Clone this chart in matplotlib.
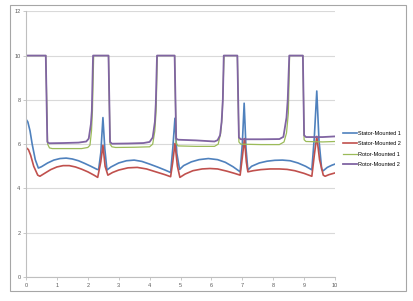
import matplotlib
matplotlib.use("Agg")
from matplotlib import pyplot as plt
from matplotlib.patches import Rectangle

plt.rcParams['font.family'] = ['Liberation Sans', 'DejaVu Sans']

# Stator-Mounted 1
s1_x = [0, 0.06, 0.13, 0.2, 0.3, 0.4, 0.5, 0.7, 0.9, 1.1, 1.3, 1.5, 1.7, 1.9, 2.1, 2.3, 2.35,
        2.42, 2.49, 2.55, 2.62, 2.75, 3.0, 3.25, 3.5, 3.75, 4.0, 4.25, 4.5, 4.68,
        4.75, 4.82, 4.88, 4.97, 5.1, 5.35, 5.6, 5.9, 6.2, 6.45, 6.7, 6.93,
        7.0, 7.06, 7.12, 7.18, 7.3, 7.55, 7.8, 8.05, 8.3, 8.55, 8.8, 9.05, 9.25,
        9.33, 9.41, 9.48, 9.57, 9.62, 9.75, 9.9, 10]
s1_y = [7.13, 7.0, 6.6, 6.0, 5.3, 4.92, 4.98, 5.15, 5.28, 5.35, 5.37, 5.33, 5.25, 5.13, 5.0, 4.86, 4.85,
        5.6, 7.2, 5.8, 4.83, 4.97, 5.15, 5.25, 5.28, 5.22, 5.1, 4.97, 4.83, 4.72,
        5.8, 7.17, 5.6, 4.86, 5.03, 5.2, 5.3, 5.35, 5.3, 5.18, 4.98, 4.75,
        6.0, 7.85, 5.8, 4.83, 5.0, 5.15, 5.23, 5.27, 5.28, 5.25, 5.15, 5.0, 4.84,
        6.3, 8.4, 6.2, 4.85, 4.8, 4.95, 5.05, 5.1]

# Stator-Mounted 2
s2_x = [0, 0.08, 0.15, 0.25, 0.38, 0.45, 0.6, 0.8, 1.0, 1.2, 1.4, 1.6, 1.8, 2.0, 2.2, 2.32,
        2.42, 2.49, 2.56, 2.65, 2.8, 3.0, 3.3, 3.6, 3.9, 4.2, 4.5, 4.68,
        4.75, 4.82, 4.9, 4.98, 5.15, 5.4, 5.7, 5.95, 6.2, 6.5, 6.75, 6.93,
        7.0, 7.07, 7.13, 7.18, 7.35, 7.6, 7.9, 8.2, 8.45, 8.7, 9.0, 9.25,
        9.33, 9.41, 9.5, 9.62, 9.68, 9.8, 10]
s2_y = [5.85, 5.75, 5.5, 5.0, 4.6, 4.55, 4.68, 4.85, 4.97, 5.03, 5.03, 4.97, 4.87, 4.75, 4.6, 4.5,
        5.2, 5.95, 5.0, 4.6, 4.72, 4.83, 4.93, 4.95, 4.88, 4.75, 4.62, 4.53,
        5.2, 6.03, 5.0, 4.5, 4.65, 4.8, 4.88, 4.9, 4.88, 4.78, 4.68, 4.6,
        5.4, 6.25, 5.2, 4.75, 4.8, 4.85, 4.88, 4.88, 4.86, 4.8, 4.68, 4.55,
        5.5, 6.35, 5.3, 4.6, 4.55, 4.62, 4.7]

# Rotor-Mounted 1
r1_x = [0, 0.64, 0.7, 0.76, 0.85, 1.3, 1.8, 2.0, 2.07, 2.12, 2.15, 2.19,
        2.67, 2.72, 2.78, 2.9, 3.5, 4.0, 4.1, 4.17, 4.21, 4.25,
        4.81, 4.86, 4.92, 5.5, 6.1, 6.22, 6.3, 6.35, 6.41,
        6.84, 6.89, 6.95, 7.6, 8.2, 8.35, 8.43, 8.49, 8.53,
        8.96, 9.0, 9.06, 9.6, 10]
r1_y = [10, 10, 6.0, 5.83, 5.8, 5.8, 5.8, 5.85, 5.95, 6.6, 7.5, 10,
        10, 6.0, 5.88, 5.85, 5.86, 5.88, 6.0, 6.6, 7.5, 10,
        10, 6.05, 5.92, 5.9, 5.9, 6.0, 6.5, 7.3, 10,
        10, 6.1, 6.0, 5.98, 5.98, 6.1, 6.5, 7.4, 10,
        10, 6.2, 6.12, 6.1, 6.12]

# Rotor-Mounted 2
r2_x = [0, 0.64, 0.69, 0.75, 1.2, 1.7, 1.95, 2.03, 2.1, 2.13, 2.17,
        2.67, 2.72, 2.78, 3.3, 3.8, 4.0, 4.1, 4.17, 4.2, 4.24,
        4.81, 4.86, 4.92, 5.5, 6.1, 6.2, 6.28, 6.33, 6.37, 6.4,
        6.84, 6.89, 6.95, 7.6, 8.2, 8.33, 8.43, 8.47, 8.52,
        8.96, 9.0, 9.06, 9.6, 10]
r2_y = [10, 10, 6.1, 6.04, 6.05, 6.07, 6.12, 6.25, 6.9, 7.5, 10,
        10, 6.1, 6.02, 6.03, 6.05, 6.1, 6.3, 7.0, 7.8, 10,
        10, 6.25, 6.2, 6.17, 6.12, 6.18, 6.4, 7.0, 8.0, 10,
        10, 6.3, 6.22, 6.22, 6.23, 6.33, 7.2, 8.0, 10,
        10, 6.4, 6.32, 6.32, 6.35]

labels = ['Stator-Mounted 1', 'Stator-Mounted 2', 'Rotor-Mounted 1', 'Rotor-Mounted 2']
colors = ['#4F81BD', '#C0504D', '#9BBB59', '#8064A2']
widths = [1.2, 1.2, 0.9, 1.3]

fig = plt.figure(figsize=(4.14, 3.01), dpi=100)
fig.patches.append(Rectangle((0.024, 0.033), 0.957, 0.95, transform=fig.transFigure,
                             fill=False, edgecolor='#A6A6A6', lw=0.8))
ax = fig.add_axes([0.0628, 0.0797, 0.7464, 0.8828])

series = [(s1_x, s1_y), (s2_x, s2_y), (r1_x, r1_y), (r2_x, r2_y)]
for (xs, ys), lab, c, w in zip(series, labels, colors, widths):
    ax.plot(xs, ys, color=c, lw=w, label=lab)

ax.set_xlim(0, 10)
ax.set_ylim(0, 12)
ax.set_xticks(range(0, 11))
ax.set_yticks(range(0, 13, 2))
ax.grid(axis='y', color='#D9D9D9', lw=0.8)
ax.set_axisbelow(True)
for side in ['top', 'right']:
    ax.spines[side].set_visible(False)
for side in ['left', 'bottom']:
    ax.spines[side].set_color('#BFBFBF')
    ax.spines[side].set_linewidth(0.8)
ax.tick_params(labelsize=4, colors='#595959', length=2, width=0.6, pad=2)
ax.tick_params(axis='both', color='#BFBFBF')

fig.legend(loc='upper left', bbox_to_anchor=(0.828, 0.566), frameon=False,
           fontsize=4, handlelength=2.6, handletextpad=0.2, labelspacing=1.0,
           borderaxespad=0, borderpad=0)

fig.savefig('out.png', dpi=100)
